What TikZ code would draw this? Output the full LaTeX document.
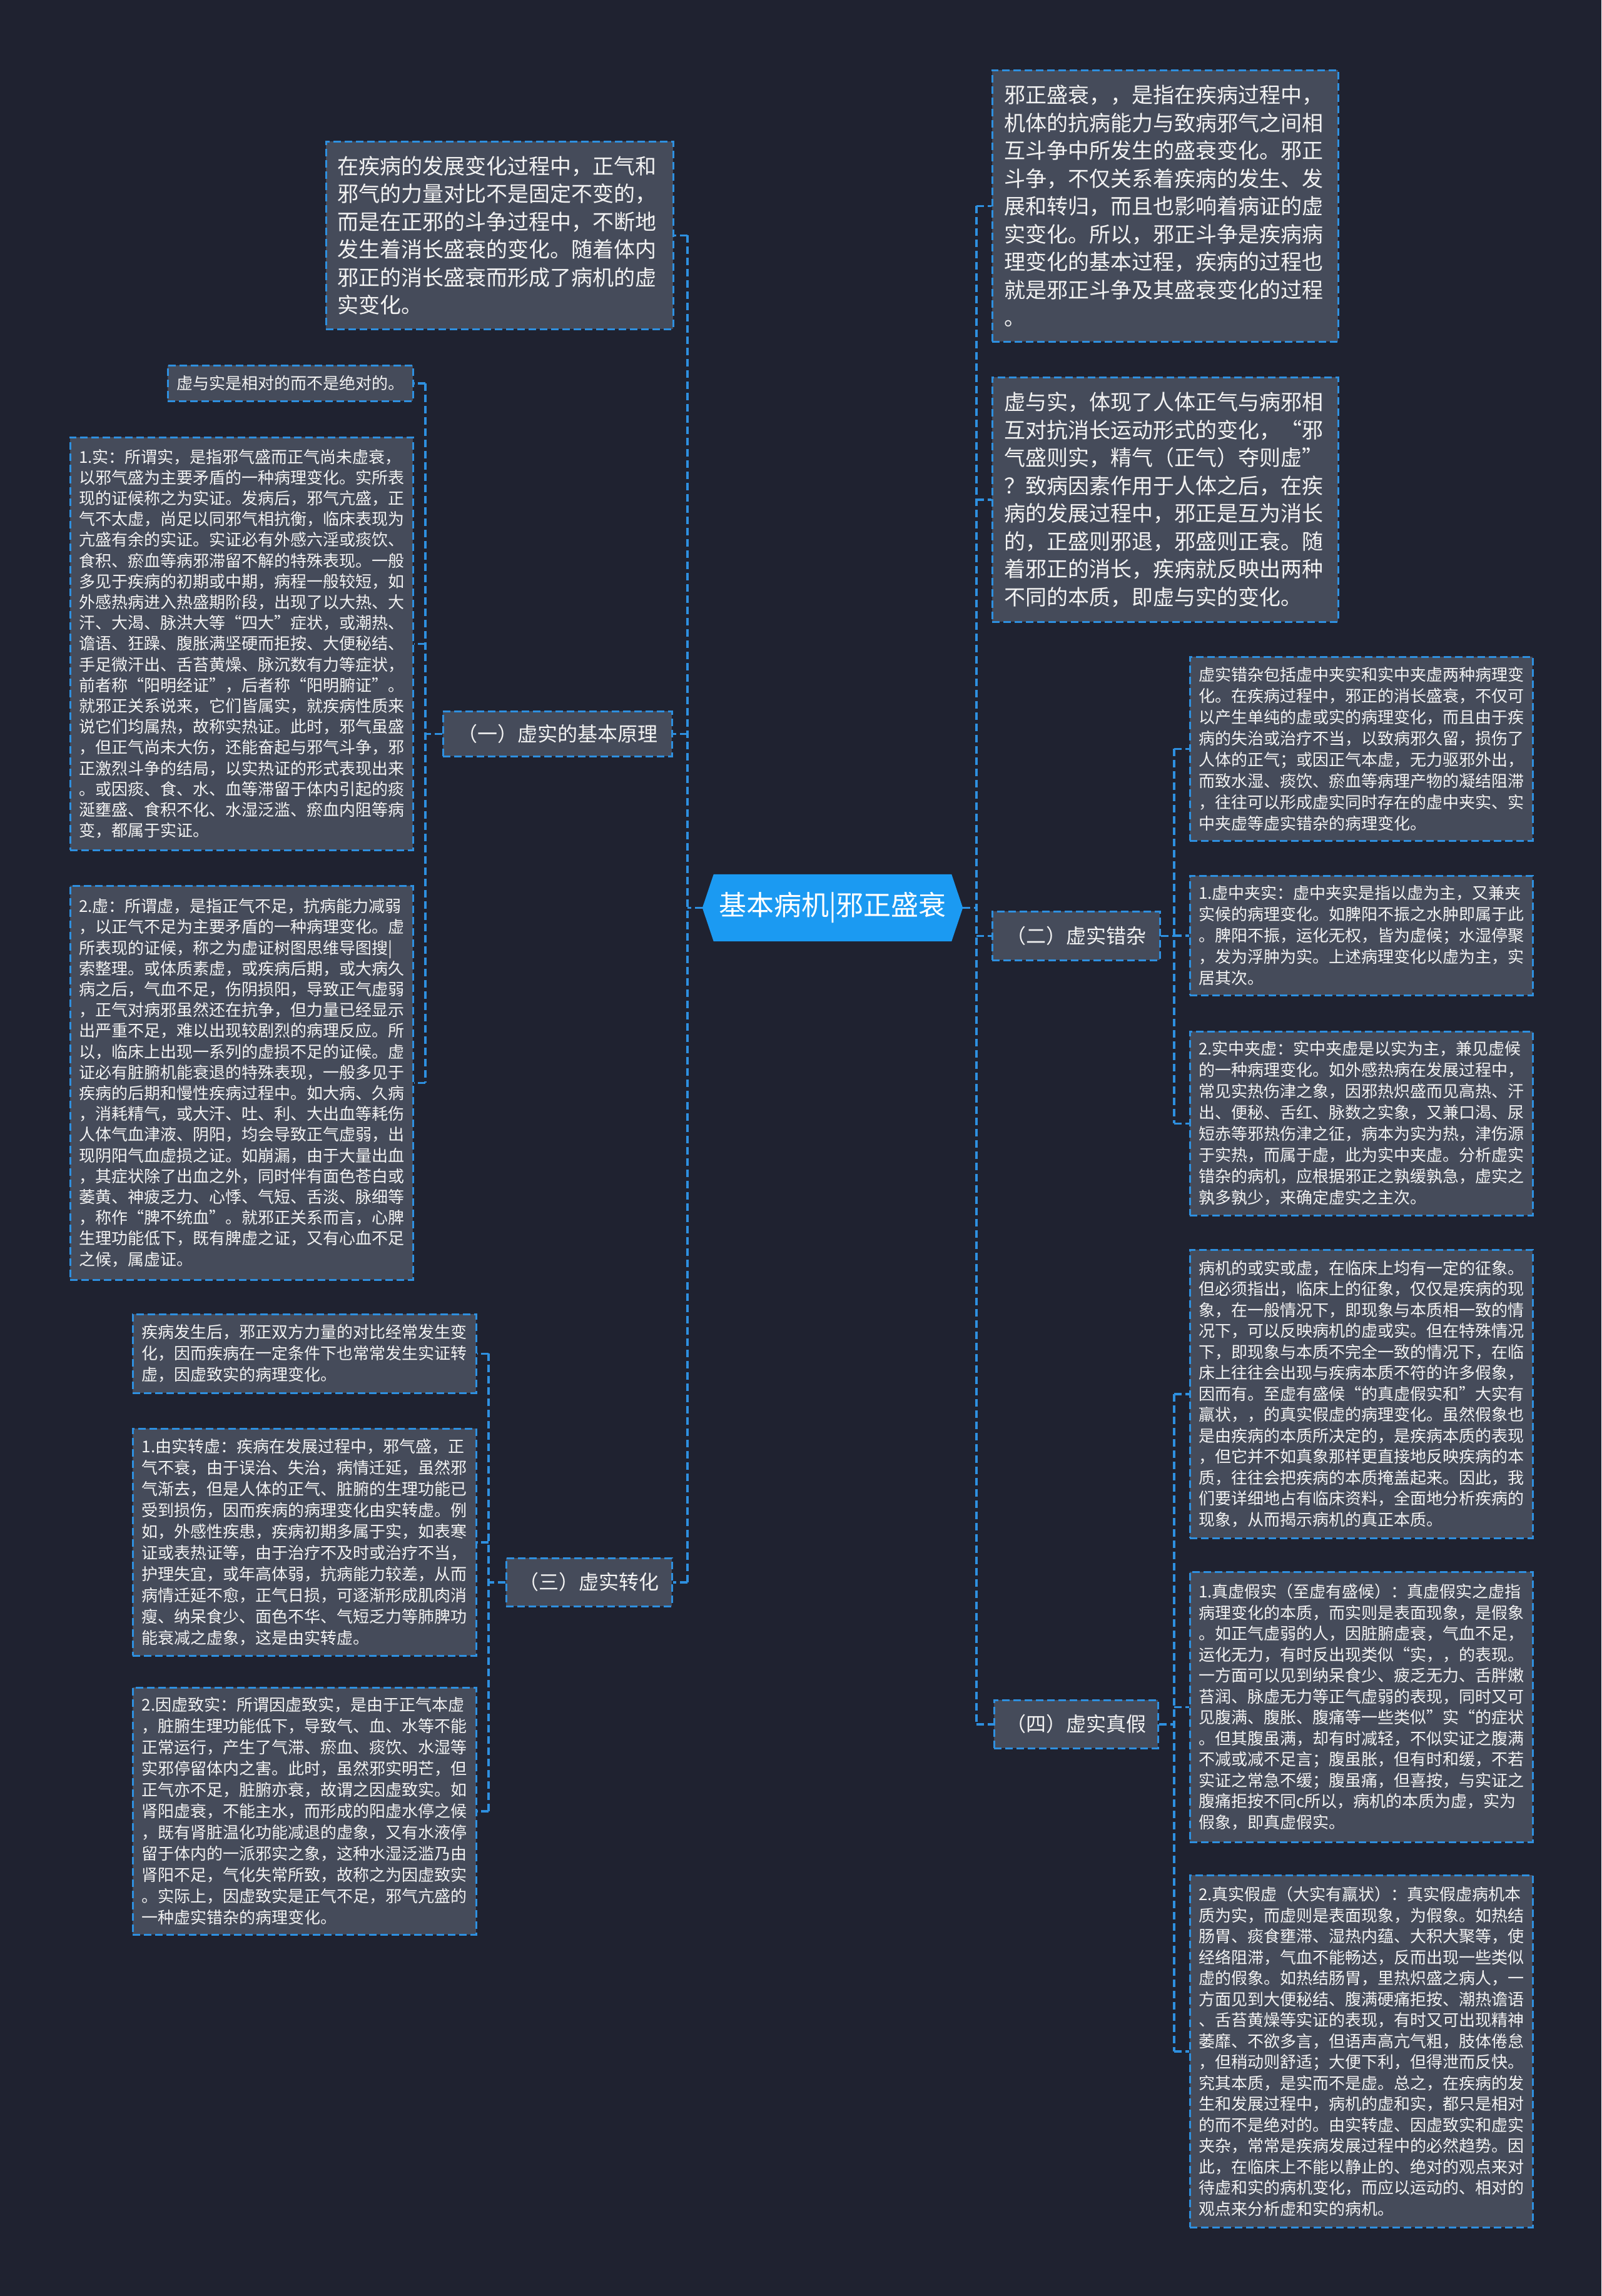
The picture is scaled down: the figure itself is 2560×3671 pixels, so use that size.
\documentclass[tikz,border=0pt]{standalone}
\usepackage{fontspec}
\newfontfamily\cjk{Noto Sans CJK SC}
\usetikzlibrary{calc}
\definecolor{bgc}{HTML}{1F2230}
\definecolor{boxc}{HTML}{454B5A}
\definecolor{linec}{HTML}{2E90E0}
\definecolor{ctrc}{HTML}{1B9AF2}
\definecolor{txtc}{HTML}{F2F2F2}
\pgfdeclarelayer{bg}
\pgfsetlayers{bg,main}
\begin{document}
\begin{tikzpicture}[x=1pt,y=-1pt,
 box/.style={draw=linec, fill=boxc, line width=2.5pt, dash pattern=on 12pt off 6pt, anchor=north west, inner sep=0pt, text=txtc, align=left},
 small/.style={box, minimum width=548pt, text width=520pt, font=\cjk\fontsize{26pt}{34pt}\selectfont},
 smallb/.style={box, minimum width=548pt, text width=520pt, font=\cjk\fontsize{26pt}{33.2pt}\selectfont},
 smallc/.style={box, minimum width=548pt, text width=520pt, font=\cjk\fontsize{26pt}{33.5pt}\selectfont},
 big/.style={box, font=\cjk\fontsize{34pt}{44.5pt}\selectfont},
 lbl/.style={box, align=center, font=\cjk\fontsize{32pt}{38pt}\selectfont},
 conn/.style={draw=linec, line width=3.5pt, dash pattern=on 12pt off 6pt},
]
\useasboundingbox (0,0) rectangle (2560,3671);
\begin{pgfonlayer}{bg}
\fill[bgc] (0,0) rectangle (2560,3671);
\end{pgfonlayer}

% centre
\node[anchor=center, minimum width=380pt, minimum height=107pt, inner sep=0pt, text=white, font=\cjk\fontsize{44pt}{50pt}\selectfont] (C) at (1331,1451.5) {基本病机|邪正盛衰};
\coordinate (cL) at ([xshift=-18pt]C.west);
\coordinate (cR) at ([xshift=18pt]C.east);
\begin{pgfonlayer}{bg}
\fill[ctrc] (cL) -- (C.north west) -- (C.north east) -- (cR) -- (C.south east) -- (C.south west) -- cycle;
\end{pgfonlayer}

% left side
\node[big, minimum width=555pt, minimum height=300pt, text width=519pt] (TL) at (520,225) {在疾病的发展变化过程中，正气和\\邪气的力量对比不是固定不变的，\\而是在正邪的斗争过程中，不断地\\发生着消长盛衰的变化。随着体内\\邪正的消长盛衰而形成了病机的虚\\实变化。};

\node[lbl, minimum width=366pt, minimum height=72pt] (LB1) at (707,1136) {（一）虚实的基本原理};
\node[lbl, minimum width=265pt, minimum height=77pt] (LB3) at (808,2490) {（三）虚实转化};

\node[box, minimum width=392pt, minimum height=57pt, text width=364pt, font=\cjk\fontsize{26pt}{33pt}\selectfont] (L0) at (267,583) {虚与实是相对的而不是绝对的。};

\node[smallb, minimum height=660pt] (L1a) at (111,698) {1.实：所谓实，是指邪气盛而正气尚未虚衰，\\以邪气盛为主要矛盾的一种病理变化。实所表\\现的证候称之为实证。发病后，邪气亢盛，正\\气不太虚，尚足以同邪气相抗衡，临床表现为\\亢盛有余的实证。实证必有外感六淫或痰饮、\\食积、瘀血等病邪滞留不解的特殊表现。一般\\多见于疾病的初期或中期，病程一般较短，如\\外感热病进入热盛期阶段，出现了以大热、大\\汗、大渴、脉洪大等“四大”症状，或潮热、\\谵语、狂躁、腹胀满坚硬而拒按、大便秘结、\\手足微汗出、舌苔黄燥、脉沉数有力等症状，\\前者称“阳明经证”，后者称“阳明腑证”。\\就邪正关系说来，它们皆属实，就疾病性质来\\说它们均属热，故称实热证。此时，邪气虽盛\\，但正气尚未大伤，还能奋起与邪气斗争，邪\\正激烈斗争的结局，以实热证的形式表现出来\\。或因痰、食、水、血等滞留于体内引起的痰\\涎壅盛、食积不化、水湿泛滥、瘀血内阻等病\\变，都属于实证。};

\node[smallb, minimum height=630pt] (L1b) at (111,1415) {2.虚：所谓虚，是指正气不足，抗病能力减弱\\，以正气不足为主要矛盾的一种病理变化。虚\\所表现的证候，称之为虚证树图思维导图搜|\\索整理。或体质素虚，或疾病后期，或大病久\\病之后，气血不足，伤阴损阳，导致正气虚弱\\，正气对病邪虽然还在抗争，但力量已经显示\\出严重不足，难以出现较剧烈的病理反应。所\\以，临床上出现一系列的虚损不足的证候。虚\\证必有脏腑机能衰退的特殊表现，一般多见于\\疾病的后期和慢性疾病过程中。如大病、久病\\，消耗精气，或大汗、吐、利、大出血等耗伤\\人体气血津液、阴阳，均会导致正气虚弱，出\\现阴阳气血虚损之证。如崩漏，由于大量出血\\，其症状除了出血之外，同时伴有面色苍白或\\萎黄、神疲乏力、心悸、气短、舌淡、脉细等\\，称作“脾不统血”。就邪正关系而言，心脾\\生理功能低下，既有脾虚之证，又有心血不足\\之候，属虚证。};

\node[small, minimum width=549pt, minimum height=126pt] (L3a) at (211,2100) {疾病发生后，邪正双方力量的对比经常发生变\\化，因而疾病在一定条件下也常常发生实证转\\虚，因虚致实的病理变化。};

\node[small, minimum width=549pt, minimum height=363pt] (L3b) at (211,2283) {1.由实转虚：疾病在发展过程中，邪气盛，正\\气不衰，由于误治、失治，病情迁延，虽然邪\\气渐去，但是人体的正气、脏腑的生理功能已\\受到损伤，因而疾病的病理变化由实转虚。例\\如，外感性疾患，疾病初期多属于实，如表寒\\证或表热证等，由于治疗不及时或治疗不当，\\护理失宜，或年高体弱，抗病能力较差，从而\\病情迁延不愈，正气日损，可逐渐形成肌肉消\\瘦、纳呆食少、面色不华、气短乏力等肺脾功\\能衰减之虚象，这是由实转虚。};

\node[small, minimum width=549pt, minimum height=395pt] (L3c) at (211,2697) {2.因虚致实：所谓因虚致实，是由于正气本虚\\，脏腑生理功能低下，导致气、血、水等不能\\正常运行，产生了气滞、瘀血、痰饮、水湿等\\实邪停留体内之害。此时，虽然邪实明芒，但\\正气亦不足，脏腑亦衰，故谓之因虚致实。如\\肾阳虚衰，不能主水，而形成的阳虚水停之候\\，既有肾脏温化功能减退的虚象，又有水液停\\留于体内的一派邪实之象，这种水湿泛滥乃由\\肾阳不足，气化失常所致，故称之为因虚致实\\。实际上，因虚致实是正气不足，邪气亢盛的\\一种虚实错杂的病理变化。};

% right side
\node[big, minimum width=553pt, minimum height=434pt, text width=515pt] (R1) at (1585,111) {邪正盛衰，，是指在疾病过程中，\\机体的抗病能力与致病邪气之间相\\互斗争中所发生的盛衰变化。邪正\\斗争，不仅关系着疾病的发生、发\\展和转归，而且也影响着病证的虚\\实变化。所以，邪正斗争是疾病病\\理变化的基本过程，疾病的过程也\\就是邪正斗争及其盛衰变化的过程\\。};

\node[big, minimum width=553pt, minimum height=391pt, text width=515pt] (R2) at (1585,602) {虚与实，体现了人体正气与病邪相\\互对抗消长运动形式的变化，“邪\\气盛则实，精气（正气）夺则虚”\\？致病因素作用于人体之后，在疾\\病的发展过程中，邪正是互为消长\\的，正盛则邪退，邪盛则正衰。随\\着邪正的消长，疾病就反映出两种\\不同的本质，即虚与实的变化。};

\node[lbl, minimum width=268pt, minimum height=78pt] (LB2) at (1585,1456) {（二）虚实错杂};
\node[lbl, minimum width=262pt, minimum height=77pt] (LB4) at (1588,2717) {（四）虚实真假};

\node[small, minimum height=294pt] (R2a) at (1901,1049) {虚实错杂包括虚中夹实和实中夹虚两种病理变\\化。在疾病过程中，邪正的消长盛衰，不仅可\\以产生单纯的虚或实的病理变化，而且由于疾\\病的失治或治疗不当，以致病邪久留，损伤了\\人体的正气；或因正气本虚，无力驱邪外出，\\而致水湿、痰饮、瘀血等病理产物的凝结阻滞\\，往往可以形成虚实同时存在的虚中夹实、实\\中夹虚等虚实错杂的病理变化。};

\node[small, minimum height=191pt] (R2b) at (1901,1399) {1.虚中夹实：虚中夹实是指以虚为主，又兼夹\\实候的病理变化。如脾阳不振之水肿即属于此\\。脾阳不振，运化无权，皆为虚候；水湿停聚\\，发为浮肿为实。上述病理变化以虚为主，实\\居其次。};

\node[small, minimum height=294pt] (R2c) at (1901,1648) {2.实中夹虚：实中夹虚是以实为主，兼见虚候\\的一种病理变化。如外感热病在发展过程中，\\常见实热伤津之象，因邪热炽盛而见高热、汗\\出、便秘、舌红、脉数之实象，又兼口渴、尿\\短赤等邪热伤津之征，病本为实为热，津伤源\\于实热，而属于虚，此为实中夹虚。分析虚实\\错杂的病机，应根据邪正之孰缓孰急，虚实之\\孰多孰少，来确定虚实之主次。};

\node[smallc, minimum height=461pt] (R4a) at (1901,1997) {病机的或实或虚，在临床上均有一定的征象。\\但必须指出，临床上的征象，仅仅是疾病的现\\象，在一般情况下，即现象与本质相一致的情\\况下，可以反映病机的虚或实。但在特殊情况\\下，即现象与本质不完全一致的情况下，在临\\床上往往会出现与疾病本质不符的许多假象，\\因而有。至虚有盛候“的真虚假实和”大实有\\羸状，，的真实假虚的病理变化。虽然假象也\\是由疾病的本质所决定的，是疾病本质的表现\\，但它并不如真象那样更直接地反映疾病的本\\质，往往会把疾病的本质掩盖起来。因此，我\\们要详细地占有临床资料，全面地分析疾病的\\现象，从而揭示病机的真正本质。};

\node[smallc, minimum height=432pt] (R4b) at (1901,2512) {1.真虚假实（至虚有盛候）：真虚假实之虚指\\病理变化的本质，而实则是表面现象，是假象\\。如正气虚弱的人，因脏腑虚衰，气血不足，\\运化无力，有时反出现类似“实，，的表现。\\一方面可以见到纳呆食少、疲乏无力、舌胖嫩\\苔润、脉虚无力等正气虚弱的表现，同时又可\\见腹满、腹胀、腹痛等一些类似”实“的症状\\。但其腹虽满，却有时减轻，不似实证之腹满\\不减或减不足言；腹虽胀，但有时和缓，不若\\实证之常急不缓；腹虽痛，但喜按，与实证之\\腹痛拒按不同c所以，病机的本质为虚，实为\\假象，即真虚假实。};

\node[smallc, minimum height=563pt] (R4c) at (1901,2997) {2.真实假虚（大实有羸状）：真实假虚病机本\\质为实，而虚则是表面现象，为假象。如热结\\肠胃、痰食壅滞、湿热内蕴、大积大聚等，使\\经络阻滞，气血不能畅达，反而出现一些类似\\虚的假象。如热结肠胃，里热炽盛之病人，一\\方面见到大便秘结、腹满硬痛拒按、潮热谵语\\、舌苔黄燥等实证的表现，有时又可出现精神\\萎靡、不欲多言，但语声高亢气粗，肢体倦怠\\，但稍动则舒适；大便下利，但得泄而反快。\\究其本质，是实而不是虚。总之，在疾病的发\\生和发展过程中，病机的虚和实，都只是相对\\的而不是绝对的。由实转虚、因虚致实和虚实\\夹杂，常常是疾病发展过程中的必然趋势。因\\此，在临床上不能以静止的、绝对的观点来对\\待虚和实的病机变化，而应以运动的、相对的\\观点来分析虚和实的病机。};

% trunks
\coordinate (tC) at (1099,0);
\coordinate (t1) at (680,0);
\coordinate (t3) at (781,0);
\coordinate (tR) at (1561,0);
\coordinate (t2) at (1877,0);
\coordinate (t4) at (1877,0);

\begin{pgfonlayer}{bg}
% centre left
\draw[conn] (cL) -- (cL -| tC);
\draw[conn] (tC |- TL.east) -- (tC |- LB3.east);
\draw[conn] (tC |- TL.east) -- (TL.east);
\draw[conn] (tC |- LB1.east) -- (LB1.east);
\draw[conn] (tC |- LB3.east) -- (LB3.east);
% branch one
\draw[conn] (LB1.west) -- (t1 |- LB1.west);
\draw[conn] (t1 |- L0.east) -- (t1 |- L1b.east);
\draw[conn] (t1 |- L0.east) -- (L0.east);
\draw[conn] (t1 |- L1a.east) -- (L1a.east);
\draw[conn] (t1 |- L1b.east) -- (L1b.east);
% branch three
\draw[conn] (LB3.west) -- (t3 |- LB3.west);
\draw[conn] (t3 |- L3a.east) -- (t3 |- L3c.east);
\draw[conn] (t3 |- L3a.east) -- (L3a.east);
\draw[conn] (t3 |- L3b.east) -- (L3b.east);
\draw[conn] (t3 |- L3c.east) -- (L3c.east);
% centre right
\draw[conn] (cR) -- (cR -| tR);
\draw[conn] (tR |- R1.west) -- (tR |- LB4.west);
\draw[conn] (tR |- R1.west) -- (R1.west);
\draw[conn] (tR |- R2.west) -- (R2.west);
\draw[conn] (tR |- LB2.west) -- (LB2.west);
\draw[conn] (tR |- LB4.west) -- (LB4.west);
% branch two
\draw[conn] (LB2.east) -- (t2 |- LB2.east);
\draw[conn] (t2 |- R2a.west) -- (t2 |- R2c.west);
\draw[conn] (t2 |- R2a.west) -- (R2a.west);
\draw[conn] (t2 |- R2b.west) -- (R2b.west);
\draw[conn] (t2 |- R2c.west) -- (R2c.west);
% branch four
\draw[conn] (LB4.east) -- (t4 |- LB4.east);
\draw[conn] (t4 |- R4a.west) -- (t4 |- R4c.west);
\draw[conn] (t4 |- R4a.west) -- (R4a.west);
\draw[conn] (t4 |- R4b.west) -- (R4b.west);
\draw[conn] (t4 |- R4c.west) -- (R4c.west);
\end{pgfonlayer}
\end{tikzpicture}
\end{document}
